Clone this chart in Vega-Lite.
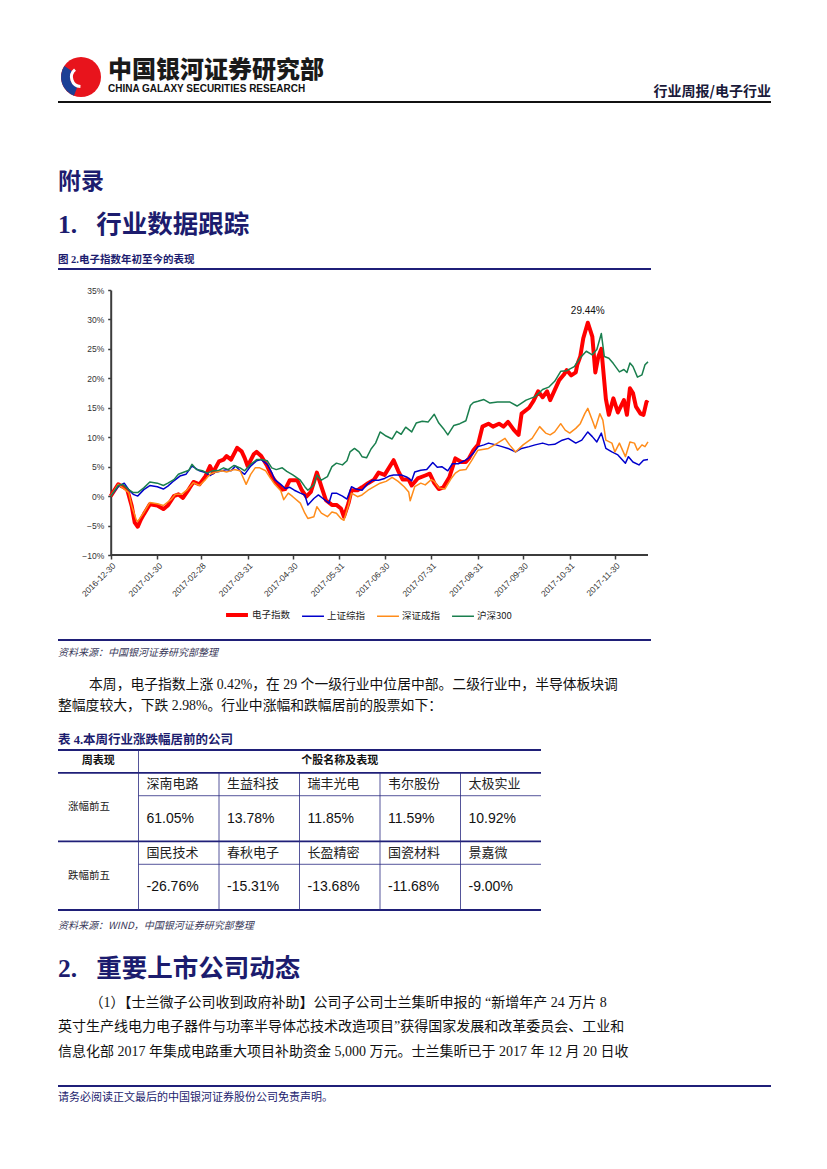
{
 "$schema": "https://vega.github.io/schema/vega-lite/v6.json",
 "background": "#ffffff",
 "padding": {"left": 57, "top": 0, "right": 0, "bottom": 0},
 "config": {"view": {"stroke": null}, "font": "Liberation Sans, Noto Sans CJK SC"},
 "spacing": 0,
 "bounds": "flush",
 "resolve": {"scale": {"color": "independent", "strokeWidth": "independent"}, "legend": {"color": "independent", "strokeWidth": "independent"}},
 "vconcat": [
  {"width": 713, "height": 57, "view": {"fill": "#ffffff", "stroke": null}, "data": {"values": []}, "mark": "point", "encoding": {}},
  {"hconcat": [
    {"width": 3, "height": 40, "data": {"values": []}, "mark": "point", "encoding": {}},
    {"width": 40, "height": 40, "data": {"values": [{}]},
     "layer": [
      {"mark": {"type": "arc", "outerRadius": 20, "theta": 0, "theta2": 6.2832, "color": "#e8141c"}, "encoding": {}},
      {"mark": {"type": "arc", "innerRadius": 11, "outerRadius": 20, "theta": 3.5, "theta2": 5.3, "color": "#1c3f95"}, "encoding": {}},
      {"mark": {"type": "arc", "innerRadius": 8, "outerRadius": 11, "theta": 3.2, "theta2": 5.6, "color": "#ffffff"}, "encoding": {}}
     ]}
   ], "spacing": 0, "bounds": "flush"},
  {"width": 713, "height": 44, "data": {"values": []}, "mark": "point", "encoding": {}},
  {"hconcat": [
    {"width": 356, "height": 2, "view": {"fill": "#111111", "stroke": null}, "data": {"values": []}, "mark": "point", "encoding": {},
     "title": {"text": "中国银河证券研究部", "subtitle": "CHINA GALAXY SECURITIES RESEARCH", "anchor": "start", "frame": "group", "dx": 50, "offset": 7,
       "font": "Noto Sans CJK SC", "fontSize": 24, "fontWeight": 900, "color": "#1a1a1a",
       "subtitleFont": "Liberation Sans", "subtitleFontSize": 10, "subtitleFontWeight": "bold", "subtitleColor": "#111111", "subtitlePadding": 1}},
    {"width": 357, "height": 2, "view": {"fill": "#111111", "stroke": null}, "data": {"values": []}, "mark": "point", "encoding": {},
     "title": {"text": "行业周报/电子行业", "anchor": "end", "frame": "group", "offset": 2, "font": "Noto Sans CJK SC", "fontSize": 14, "fontWeight": "bold", "color": "#1a1a3a"}}
   ], "spacing": 0, "bounds": "flush"},
  {"width": 713, "height": 96, "data": {"values": []}, "mark": "point", "encoding": {}},
  {"width": 713, "height": 71, "data": {"values": []}, "mark": "point", "encoding": {},
   "title": {"text": "附录", "anchor": "start", "frame": "group", "offset": 3, "font": "Liberation Serif, Noto Sans CJK SC", "fontSize": 23, "fontWeight": "bold", "color": "#1c1c6e"}},
  {"width": 593, "height": 2, "view": {"fill": "#1f1f78", "stroke": null}, "data": {"values": []}, "mark": "point", "encoding": {},
   "title": {"text": "1.\u00a0\u00a0\u00a0行业数据跟踪", "subtitle": "图 2.电子指数年初至今的表现", "anchor": "start", "frame": "group", "offset": 3,
     "font": "Liberation Serif, Noto Sans CJK SC", "fontSize": 25.5, "fontWeight": "bold", "color": "#1c1c6e",
     "subtitleFont": "Liberation Serif, Noto Sans CJK SC", "subtitleFontSize": 10.5, "subtitleFontWeight": "bold", "subtitleColor": "#1c1c6e", "subtitlePadding": 16}},
  {"width": 713, "height": 20, "data": {"values": []}, "mark": "point", "encoding": {}},
  {"width": 590, "height": 265,
   "data": {"values": [
{"d":"2016-12-30","s":"电子指数","v":0},{"d":"2017-01-04","s":"电子指数","v":2.0},{"d":"2017-01-07","s":"电子指数","v":1.6},{"d":"2017-01-10","s":"电子指数","v":1.1},{"d":"2017-01-13","s":"电子指数","v":-1.7},{"d":"2017-01-15","s":"电子指数","v":-4.5},{"d":"2017-01-17","s":"电子指数","v":-5.2},{"d":"2017-01-19","s":"电子指数","v":-4.0},{"d":"2017-01-21","s":"电子指数","v":-3.1},{"d":"2017-01-25","s":"电子指数","v":-1.4},{"d":"2017-01-30","s":"电子指数","v":-1.6},{"d":"2017-02-03","s":"电子指数","v":-2.2},{"d":"2017-02-06","s":"电子指数","v":-1.6},{"d":"2017-02-10","s":"电子指数","v":0.0},{"d":"2017-02-13","s":"电子指数","v":0.3},{"d":"2017-02-16","s":"电子指数","v":-0.3},{"d":"2017-02-20","s":"电子指数","v":1.2},{"d":"2017-02-23","s":"电子指数","v":2.4},{"d":"2017-02-27","s":"电子指数","v":2.0},{"d":"2017-03-03","s":"电子指数","v":3.4},{"d":"2017-03-06","s":"电子指数","v":5.1},{"d":"2017-03-08","s":"电子指数","v":4.0},{"d":"2017-03-12","s":"电子指数","v":5.9},{"d":"2017-03-15","s":"电子指数","v":6.2},{"d":"2017-03-17","s":"电子指数","v":6.8},{"d":"2017-03-20","s":"电子指数","v":6.2},{"d":"2017-03-24","s":"电子指数","v":8.2},{"d":"2017-03-27","s":"电子指数","v":7.6},{"d":"2017-03-29","s":"电子指数","v":6.5},{"d":"2017-03-31","s":"电子指数","v":5.1},{"d":"2017-04-04","s":"电子指数","v":7.1},{"d":"2017-04-06","s":"电子指数","v":7.5},{"d":"2017-04-09","s":"电子指数","v":6.8},{"d":"2017-04-13","s":"电子指数","v":5.1},{"d":"2017-04-16","s":"电子指数","v":3.4},{"d":"2017-04-19","s":"电子指数","v":2.3},{"d":"2017-04-23","s":"电子指数","v":1.1},{"d":"2017-04-25","s":"电子指数","v":1.2},{"d":"2017-04-28","s":"电子指数","v":2.7},{"d":"2017-05-03","s":"电子指数","v":2.7},{"d":"2017-05-06","s":"电子指数","v":1.0},{"d":"2017-05-09","s":"电子指数","v":-0.1},{"d":"2017-05-12","s":"电子指数","v":0.7},{"d":"2017-05-16","s":"电子指数","v":4.0},{"d":"2017-05-19","s":"电子指数","v":1.6},{"d":"2017-05-22","s":"电子指数","v":-0.7},{"d":"2017-05-26","s":"电子指数","v":-1.5},{"d":"2017-05-29","s":"电子指数","v":-1.5},{"d":"2017-06-01","s":"电子指数","v":-2.1},{"d":"2017-06-03","s":"电子指数","v":-3.5},{"d":"2017-06-06","s":"电子指数","v":-1.2},{"d":"2017-06-08","s":"电子指数","v":1.0},{"d":"2017-06-12","s":"电子指数","v":1.0},{"d":"2017-06-15","s":"电子指数","v":1.5},{"d":"2017-06-19","s":"电子指数","v":2.2},{"d":"2017-06-23","s":"电子指数","v":2.8},{"d":"2017-06-26","s":"电子指数","v":4.0},{"d":"2017-06-30","s":"电子指数","v":3.6},{"d":"2017-07-06","s":"电子指数","v":6.1},{"d":"2017-07-09","s":"电子指数","v":4.3},{"d":"2017-07-12","s":"电子指数","v":2.8},{"d":"2017-07-16","s":"电子指数","v":2.8},{"d":"2017-07-18","s":"电子指数","v":1.8},{"d":"2017-07-22","s":"电子指数","v":3.0},{"d":"2017-07-27","s":"电子指数","v":3.5},{"d":"2017-07-30","s":"电子指数","v":3.8},{"d":"2017-08-02","s":"电子指数","v":2.2},{"d":"2017-08-05","s":"电子指数","v":1.2},{"d":"2017-08-08","s":"电子指数","v":1.5},{"d":"2017-08-12","s":"电子指数","v":3.2},{"d":"2017-08-16","s":"电子指数","v":6.4},{"d":"2017-08-20","s":"电子指数","v":5.8},{"d":"2017-08-23","s":"电子指数","v":5.8},{"d":"2017-08-25","s":"电子指数","v":6.4},{"d":"2017-08-28","s":"电子指数","v":7.8},{"d":"2017-08-31","s":"电子指数","v":8.7},{"d":"2017-09-03","s":"电子指数","v":11.8},{"d":"2017-09-07","s":"电子指数","v":12.3},{"d":"2017-09-10","s":"电子指数","v":11.8},{"d":"2017-09-14","s":"电子指数","v":12.3},{"d":"2017-09-17","s":"电子指数","v":11.8},{"d":"2017-09-20","s":"电子指数","v":12.6},{"d":"2017-09-24","s":"电子指数","v":11.2},{"d":"2017-09-27","s":"电子指数","v":10.4},{"d":"2017-09-29","s":"电子指数","v":14.0},{"d":"2017-10-04","s":"电子指数","v":15.0},{"d":"2017-10-07","s":"电子指数","v":16.2},{"d":"2017-10-10","s":"电子指数","v":17.8},{"d":"2017-10-13","s":"电子指数","v":16.8},{"d":"2017-10-16","s":"电子指数","v":17.8},{"d":"2017-10-18","s":"电子指数","v":16.3},{"d":"2017-10-21","s":"电子指数","v":18.0},{"d":"2017-10-24","s":"电子指数","v":19.7},{"d":"2017-10-27","s":"电子指数","v":20.6},{"d":"2017-10-29","s":"电子指数","v":21.4},{"d":"2017-11-01","s":"电子指数","v":20.5},{"d":"2017-11-04","s":"电子指数","v":21.0},{"d":"2017-11-05","s":"电子指数","v":22.3},{"d":"2017-11-07","s":"电子指数","v":23.7},{"d":"2017-11-09","s":"电子指数","v":26.8},{"d":"2017-11-12","s":"电子指数","v":29.44,"lbl":"29.44%"},{"d":"2017-11-15","s":"电子指数","v":27.1},{"d":"2017-11-17","s":"电子指数","v":21.0},{"d":"2017-11-19","s":"电子指数","v":23.7},{"d":"2017-11-21","s":"电子指数","v":25.0},{"d":"2017-11-24","s":"电子指数","v":16.5},{"d":"2017-11-26","s":"电子指数","v":13.8},{"d":"2017-11-29","s":"电子指数","v":16.6},{"d":"2017-12-02","s":"电子指数","v":14.2},{"d":"2017-12-06","s":"电子指数","v":16.3},{"d":"2017-12-08","s":"电子指数","v":13.8},{"d":"2017-12-10","s":"电子指数","v":18.3},{"d":"2017-12-12","s":"电子指数","v":17.5},{"d":"2017-12-14","s":"电子指数","v":15.2},{"d":"2017-12-17","s":"电子指数","v":14.0},{"d":"2017-12-19","s":"电子指数","v":13.8},{"d":"2017-12-21","s":"电子指数","v":16.0},{"d":"2017-12-22","s":"电子指数","v":15.8},
{"d":"2016-12-30","s":"上证综指","v":0},{"d":"2017-01-04","s":"上证综指","v":1.6},{"d":"2017-01-08","s":"上证综指","v":2.2},{"d":"2017-01-11","s":"上证综指","v":1.1},{"d":"2017-01-14","s":"上证综指","v":0.3},{"d":"2017-01-17","s":"上证综指","v":0.0},{"d":"2017-01-21","s":"上证综指","v":1.1},{"d":"2017-01-25","s":"上证综指","v":1.8},{"d":"2017-01-30","s":"上证综指","v":1.6},{"d":"2017-02-03","s":"上证综指","v":1.2},{"d":"2017-02-06","s":"上证综指","v":1.7},{"d":"2017-02-10","s":"上证综指","v":2.6},{"d":"2017-02-14","s":"上证综指","v":3.4},{"d":"2017-02-18","s":"上证综指","v":3.7},{"d":"2017-02-22","s":"上证综指","v":5.1},{"d":"2017-02-24","s":"上证综指","v":4.8},{"d":"2017-02-27","s":"上证综指","v":4.3},{"d":"2017-03-03","s":"上证综指","v":4.0},{"d":"2017-03-06","s":"上证综指","v":3.5},{"d":"2017-03-09","s":"上证综指","v":4.0},{"d":"2017-03-14","s":"上证综指","v":4.3},{"d":"2017-03-17","s":"上证综指","v":4.5},{"d":"2017-03-20","s":"上证综指","v":4.3},{"d":"2017-03-23","s":"上证综指","v":5.1},{"d":"2017-03-26","s":"上证综指","v":4.3},{"d":"2017-03-29","s":"上证综指","v":3.7},{"d":"2017-04-02","s":"上证综指","v":5.1},{"d":"2017-04-06","s":"上证综指","v":6.0},{"d":"2017-04-09","s":"上证综指","v":6.2},{"d":"2017-04-13","s":"上证综指","v":5.4},{"d":"2017-04-16","s":"上证综指","v":4.0},{"d":"2017-04-18","s":"上证综指","v":2.8},{"d":"2017-04-22","s":"上证综指","v":2.0},{"d":"2017-04-25","s":"上证综指","v":1.3},{"d":"2017-04-28","s":"上证综指","v":1.5},{"d":"2017-05-01","s":"上证综指","v":1.0},{"d":"2017-05-05","s":"上证综指","v":0.5},{"d":"2017-05-08","s":"上证综指","v":0.2},{"d":"2017-05-10","s":"上证综指","v":-1.5},{"d":"2017-05-14","s":"上证综指","v":-0.4},{"d":"2017-05-17","s":"上证综指","v":0.2},{"d":"2017-05-20","s":"上证综指","v":-0.4},{"d":"2017-05-24","s":"上证综指","v":-1.2},{"d":"2017-05-26","s":"上证综指","v":0.5},{"d":"2017-05-29","s":"上证综指","v":0.5},{"d":"2017-06-02","s":"上证综指","v":0.0},{"d":"2017-06-05","s":"上证综指","v":-0.5},{"d":"2017-06-08","s":"上证综指","v":1.6},{"d":"2017-06-11","s":"上证综指","v":1.2},{"d":"2017-06-15","s":"上证综指","v":1.0},{"d":"2017-06-18","s":"上证综指","v":1.9},{"d":"2017-06-22","s":"上证综指","v":2.7},{"d":"2017-06-26","s":"上证综指","v":2.7},{"d":"2017-06-30","s":"上证综指","v":3.0},{"d":"2017-07-03","s":"上证综指","v":3.4},{"d":"2017-07-06","s":"上证综指","v":3.6},{"d":"2017-07-11","s":"上证综指","v":3.6},{"d":"2017-07-15","s":"上证综指","v":3.2},{"d":"2017-07-18","s":"上证综指","v":2.6},{"d":"2017-07-20","s":"上证综指","v":4.1},{"d":"2017-07-24","s":"上证综指","v":4.4},{"d":"2017-07-28","s":"上证综指","v":4.5},{"d":"2017-08-01","s":"上证综指","v":5.7},{"d":"2017-08-04","s":"上证综指","v":4.9},{"d":"2017-08-07","s":"上证综指","v":5.0},{"d":"2017-08-11","s":"上证综指","v":4.3},{"d":"2017-08-14","s":"上证综指","v":5.5},{"d":"2017-08-18","s":"上证综指","v":5.5},{"d":"2017-08-22","s":"上证综指","v":6.0},{"d":"2017-08-25","s":"上证综指","v":6.5},{"d":"2017-08-28","s":"上证综指","v":7.3},{"d":"2017-08-31","s":"上证综指","v":8.4},{"d":"2017-09-04","s":"上证综指","v":8.7},{"d":"2017-09-07","s":"上证综指","v":9.0},{"d":"2017-09-12","s":"上证综指","v":8.7},{"d":"2017-09-16","s":"上证综指","v":8.4},{"d":"2017-09-20","s":"上证综指","v":8.1},{"d":"2017-09-25","s":"上证综指","v":7.5},{"d":"2017-09-29","s":"上证综指","v":8.1},{"d":"2017-10-04","s":"上证综指","v":8.4},{"d":"2017-10-08","s":"上证综指","v":8.7},{"d":"2017-10-13","s":"上证综指","v":9.0},{"d":"2017-10-17","s":"上证综指","v":8.7},{"d":"2017-10-21","s":"上证综指","v":8.8},{"d":"2017-10-26","s":"上证综指","v":9.5},{"d":"2017-10-30","s":"上证综指","v":9.8},{"d":"2017-11-04","s":"上证综指","v":9.0},{"d":"2017-11-08","s":"上证综指","v":9.5},{"d":"2017-11-12","s":"上证综指","v":10.9},{"d":"2017-11-15","s":"上证综指","v":10.1},{"d":"2017-11-18","s":"上证综指","v":9.2},{"d":"2017-11-21","s":"上证综指","v":10.7},{"d":"2017-11-24","s":"上证综指","v":8.1},{"d":"2017-11-28","s":"上证综指","v":7.5},{"d":"2017-12-02","s":"上证综指","v":7.0},{"d":"2017-12-07","s":"上证综指","v":5.6},{"d":"2017-12-09","s":"上证综指","v":6.7},{"d":"2017-12-12","s":"上证综指","v":5.8},{"d":"2017-12-16","s":"上证综指","v":5.3},{"d":"2017-12-19","s":"上证综指","v":6.1},{"d":"2017-12-22","s":"上证综指","v":6.2},
{"d":"2016-12-30","s":"深证成指","v":0},{"d":"2017-01-04","s":"深证成指","v":2.0},{"d":"2017-01-07","s":"深证成指","v":1.4},{"d":"2017-01-11","s":"深证成指","v":0.6},{"d":"2017-01-13","s":"深证成指","v":-1.7},{"d":"2017-01-16","s":"深证成指","v":-4.0},{"d":"2017-01-17","s":"深证成指","v":-4.3},{"d":"2017-01-21","s":"深证成指","v":-2.8},{"d":"2017-01-25","s":"深证成指","v":-1.1},{"d":"2017-01-30","s":"深证成指","v":-1.3},{"d":"2017-02-03","s":"深证成指","v":-1.6},{"d":"2017-02-08","s":"深证成指","v":-0.6},{"d":"2017-02-11","s":"深证成指","v":0.3},{"d":"2017-02-15","s":"深证成指","v":0.3},{"d":"2017-02-19","s":"深证成指","v":1.1},{"d":"2017-02-23","s":"深证成指","v":2.3},{"d":"2017-02-27","s":"深证成指","v":1.8},{"d":"2017-03-03","s":"深证成指","v":2.8},{"d":"2017-03-06","s":"深证成指","v":3.7},{"d":"2017-03-09","s":"深证成指","v":4.0},{"d":"2017-03-14","s":"深证成指","v":4.3},{"d":"2017-03-17","s":"深证成指","v":4.1},{"d":"2017-03-22","s":"深证成指","v":4.5},{"d":"2017-03-26","s":"深证成指","v":4.3},{"d":"2017-03-30","s":"深证成指","v":2.0},{"d":"2017-04-02","s":"深证成指","v":3.7},{"d":"2017-04-05","s":"深证成指","v":4.8},{"d":"2017-04-08","s":"深证成指","v":4.8},{"d":"2017-04-12","s":"深证成指","v":4.3},{"d":"2017-04-15","s":"深证成指","v":3.1},{"d":"2017-04-18","s":"深证成指","v":2.0},{"d":"2017-04-22","s":"深证成指","v":0.9},{"d":"2017-04-24","s":"深证成指","v":-0.6},{"d":"2017-04-27","s":"深证成指","v":0.5},{"d":"2017-04-30","s":"深证成指","v":-0.1},{"d":"2017-05-05","s":"深证成指","v":-1.2},{"d":"2017-05-08","s":"深证成指","v":-2.9},{"d":"2017-05-10","s":"深证成指","v":-3.8},{"d":"2017-05-14","s":"深证成指","v":-3.5},{"d":"2017-05-16","s":"深证成指","v":-1.8},{"d":"2017-05-19","s":"深证成指","v":-2.9},{"d":"2017-05-23","s":"深证成指","v":-3.5},{"d":"2017-05-26","s":"深证成指","v":-2.7},{"d":"2017-05-29","s":"深证成指","v":-2.9},{"d":"2017-06-01","s":"深证成指","v":-3.8},{"d":"2017-06-03","s":"深证成指","v":-4.1},{"d":"2017-06-06","s":"深证成指","v":-1.5},{"d":"2017-06-08","s":"深证成指","v":0.5},{"d":"2017-06-12","s":"深证成指","v":-0.1},{"d":"2017-06-15","s":"深证成指","v":0.2},{"d":"2017-06-19","s":"深证成指","v":1.0},{"d":"2017-06-23","s":"深证成指","v":1.6},{"d":"2017-06-27","s":"深证成指","v":2.2},{"d":"2017-07-01","s":"深证成指","v":2.5},{"d":"2017-07-05","s":"深证成指","v":3.2},{"d":"2017-07-09","s":"深证成指","v":2.5},{"d":"2017-07-13","s":"深证成指","v":1.6},{"d":"2017-07-16","s":"深证成指","v":0.7},{"d":"2017-07-17","s":"深证成指","v":-0.8},{"d":"2017-07-20","s":"深证成指","v":1.6},{"d":"2017-07-24","s":"深证成指","v":2.2},{"d":"2017-07-27","s":"深证成指","v":1.9},{"d":"2017-07-31","s":"深证成指","v":2.8},{"d":"2017-08-02","s":"深证成指","v":2.5},{"d":"2017-08-05","s":"深证成指","v":1.4},{"d":"2017-08-09","s":"深证成指","v":1.2},{"d":"2017-08-13","s":"深证成指","v":2.9},{"d":"2017-08-16","s":"深证成指","v":3.9},{"d":"2017-08-19","s":"深证成指","v":4.4},{"d":"2017-08-23","s":"深证成指","v":4.5},{"d":"2017-08-27","s":"深证成指","v":6.1},{"d":"2017-08-31","s":"深证成指","v":7.8},{"d":"2017-09-07","s":"深证成指","v":8.1},{"d":"2017-09-13","s":"深证成指","v":9.0},{"d":"2017-09-18","s":"深证成指","v":9.8},{"d":"2017-09-21","s":"深证成指","v":8.7},{"d":"2017-09-25","s":"深证成指","v":7.5},{"d":"2017-09-30","s":"深证成指","v":8.7},{"d":"2017-10-06","s":"深证成指","v":9.8},{"d":"2017-10-11","s":"深证成指","v":11.8},{"d":"2017-10-15","s":"深证成指","v":10.7},{"d":"2017-10-18","s":"深证成指","v":10.4},{"d":"2017-10-21","s":"深证成指","v":10.9},{"d":"2017-10-25","s":"深证成指","v":12.3},{"d":"2017-10-28","s":"深证成指","v":11.2},{"d":"2017-10-31","s":"深证成指","v":10.7},{"d":"2017-11-04","s":"深证成指","v":11.5},{"d":"2017-11-07","s":"深证成指","v":12.3},{"d":"2017-11-10","s":"深证成指","v":14.0},{"d":"2017-11-12","s":"深证成指","v":14.9},{"d":"2017-11-15","s":"深证成指","v":12.9},{"d":"2017-11-17","s":"深证成指","v":11.5},{"d":"2017-11-20","s":"深证成指","v":14.0},{"d":"2017-11-22","s":"深证成指","v":12.9},{"d":"2017-11-24","s":"深证成指","v":9.5},{"d":"2017-11-28","s":"深证成指","v":9.0},{"d":"2017-11-30","s":"深证成指","v":7.5},{"d":"2017-12-03","s":"深证成指","v":9.0},{"d":"2017-12-07","s":"深证成指","v":6.7},{"d":"2017-12-10","s":"深证成指","v":9.2},{"d":"2017-12-13","s":"深证成指","v":9.0},{"d":"2017-12-15","s":"深证成指","v":7.8},{"d":"2017-12-18","s":"深证成指","v":8.7},{"d":"2017-12-20","s":"深证成指","v":8.4},{"d":"2017-12-22","s":"深证成指","v":9.2},
{"d":"2016-12-30","s":"沪深300","v":0},{"d":"2017-01-04","s":"沪深300","v":1.8},{"d":"2017-01-07","s":"沪深300","v":2.0},{"d":"2017-01-11","s":"沪深300","v":1.1},{"d":"2017-01-14","s":"沪深300","v":0.6},{"d":"2017-01-17","s":"沪深300","v":0.6},{"d":"2017-01-21","s":"沪深300","v":1.4},{"d":"2017-01-25","s":"沪深300","v":2.4},{"d":"2017-01-30","s":"沪深300","v":2.2},{"d":"2017-02-03","s":"沪深300","v":1.8},{"d":"2017-02-06","s":"沪深300","v":2.2},{"d":"2017-02-10","s":"沪深300","v":2.8},{"d":"2017-02-13","s":"沪深300","v":3.7},{"d":"2017-02-16","s":"沪深300","v":4.0},{"d":"2017-02-20","s":"沪深300","v":4.4},{"d":"2017-02-22","s":"沪深300","v":5.4},{"d":"2017-02-25","s":"沪深300","v":4.5},{"d":"2017-03-01","s":"沪深300","v":4.3},{"d":"2017-03-04","s":"沪深300","v":3.9},{"d":"2017-03-08","s":"沪深300","v":4.3},{"d":"2017-03-12","s":"沪深300","v":4.4},{"d":"2017-03-15","s":"沪深300","v":4.8},{"d":"2017-03-18","s":"沪深300","v":4.5},{"d":"2017-03-22","s":"沪深300","v":5.2},{"d":"2017-03-26","s":"沪深300","v":4.8},{"d":"2017-03-29","s":"沪深300","v":4.3},{"d":"2017-04-02","s":"沪深300","v":5.4},{"d":"2017-04-06","s":"沪深300","v":6.2},{"d":"2017-04-09","s":"沪深300","v":6.2},{"d":"2017-04-13","s":"沪深300","v":6.0},{"d":"2017-04-16","s":"沪深300","v":4.8},{"d":"2017-04-19","s":"沪深300","v":4.5},{"d":"2017-04-23","s":"沪深300","v":4.8},{"d":"2017-04-26","s":"沪深300","v":4.2},{"d":"2017-04-30","s":"沪深300","v":3.6},{"d":"2017-05-05","s":"沪深300","v":2.7},{"d":"2017-05-08","s":"沪深300","v":1.6},{"d":"2017-05-10","s":"沪深300","v":1.0},{"d":"2017-05-14","s":"沪深300","v":1.9},{"d":"2017-05-16","s":"沪深300","v":3.6},{"d":"2017-05-19","s":"沪深300","v":2.7},{"d":"2017-05-23","s":"沪深300","v":3.3},{"d":"2017-05-26","s":"沪深300","v":5.0},{"d":"2017-05-29","s":"沪深300","v":5.6},{"d":"2017-06-02","s":"沪深300","v":5.3},{"d":"2017-06-05","s":"沪深300","v":6.0},{"d":"2017-06-07","s":"沪深300","v":7.5},{"d":"2017-06-10","s":"沪深300","v":8.1},{"d":"2017-06-13","s":"沪深300","v":7.5},{"d":"2017-06-15","s":"沪深300","v":6.7},{"d":"2017-06-18","s":"沪深300","v":6.5},{"d":"2017-06-21","s":"沪深300","v":8.0},{"d":"2017-06-24","s":"沪深300","v":9.0},{"d":"2017-06-27","s":"沪深300","v":10.9},{"d":"2017-07-01","s":"沪深300","v":10.2},{"d":"2017-07-05","s":"沪深300","v":9.7},{"d":"2017-07-08","s":"沪深300","v":11.0},{"d":"2017-07-11","s":"沪深300","v":10.5},{"d":"2017-07-14","s":"沪深300","v":11.7},{"d":"2017-07-18","s":"沪深300","v":10.9},{"d":"2017-07-21","s":"沪深300","v":12.4},{"d":"2017-07-25","s":"沪深300","v":12.7},{"d":"2017-07-29","s":"沪深300","v":12.6},{"d":"2017-08-02","s":"沪深300","v":13.9},{"d":"2017-08-05","s":"沪深300","v":12.4},{"d":"2017-08-08","s":"沪深300","v":11.5},{"d":"2017-08-11","s":"沪深300","v":10.4},{"d":"2017-08-15","s":"沪深300","v":12.0},{"d":"2017-08-19","s":"沪深300","v":12.3},{"d":"2017-08-23","s":"沪深300","v":12.8},{"d":"2017-08-26","s":"沪深300","v":15.4},{"d":"2017-08-28","s":"沪深300","v":15.9},{"d":"2017-08-31","s":"沪深300","v":16.1},{"d":"2017-09-04","s":"沪深300","v":16.4},{"d":"2017-09-08","s":"沪深300","v":15.8},{"d":"2017-09-13","s":"沪深300","v":16.0},{"d":"2017-09-21","s":"沪深300","v":16.0},{"d":"2017-09-26","s":"沪深300","v":15.3},{"d":"2017-10-02","s":"沪深300","v":16.3},{"d":"2017-10-08","s":"沪深300","v":16.9},{"d":"2017-10-13","s":"沪深300","v":18.1},{"d":"2017-10-17","s":"沪深300","v":18.5},{"d":"2017-10-21","s":"沪深300","v":19.5},{"d":"2017-10-25","s":"沪深300","v":21.2},{"d":"2017-10-29","s":"沪深300","v":21.3},{"d":"2017-11-03","s":"沪深300","v":22.0},{"d":"2017-11-07","s":"沪深300","v":23.5},{"d":"2017-11-11","s":"沪深300","v":24.6},{"d":"2017-11-15","s":"沪深300","v":24.0},{"d":"2017-11-18","s":"沪深300","v":24.9},{"d":"2017-11-21","s":"沪深300","v":27.6},{"d":"2017-11-23","s":"沪深300","v":23.7},{"d":"2017-11-26","s":"沪深300","v":23.4},{"d":"2017-11-29","s":"沪深300","v":22.5},{"d":"2017-12-03","s":"沪深300","v":21.1},{"d":"2017-12-06","s":"沪深300","v":21.5},{"d":"2017-12-08","s":"沪深300","v":21.0},{"d":"2017-12-10","s":"沪深300","v":22.6},{"d":"2017-12-12","s":"沪深300","v":22.0},{"d":"2017-12-15","s":"沪深300","v":20.2},{"d":"2017-12-18","s":"沪深300","v":20.6},{"d":"2017-12-20","s":"沪深300","v":22.3},{"d":"2017-12-22","s":"沪深300","v":22.8}
   ]},
   "layer": [
    {"mark": {"type": "line", "strokeJoin": "round"},
     "encoding": {
      "x": {"field": "d", "type": "temporal",
        "scale": {"type": "utc", "domain": [{"year": 2016, "month": 11, "date": 25, "utc": true}, {"year": 2017, "month": 12, "date": 22, "utc": true}]},
        "axis": {"title": null, "grid": false, "domain": false, "format": "%Y-%m-%d", "labelAngle": -45, "labelFontSize": 8.5, "labelColor": "#333333", "labelOverlap": false,
          "tickColor": "#3c3c3c", "tickWidth": 1.5, "tickSize": 4, "labelPadding": 2,
          "values": [{"year": 2016, "month": 12, "date": 30, "utc": true}, {"year": 2017, "month": 1, "date": 30, "utc": true}, {"year": 2017, "month": 2, "date": 28, "utc": true}, {"year": 2017, "month": 3, "date": 31, "utc": true}, {"year": 2017, "month": 4, "date": 30, "utc": true}, {"year": 2017, "month": 5, "date": 31, "utc": true}, {"year": 2017, "month": 6, "date": 30, "utc": true}, {"year": 2017, "month": 7, "date": 31, "utc": true}, {"year": 2017, "month": 8, "date": 31, "utc": true}, {"year": 2017, "month": 9, "date": 30, "utc": true}, {"year": 2017, "month": 10, "date": 31, "utc": true}, {"year": 2017, "month": 11, "date": 30, "utc": true}]}},
      "y": {"field": "v", "type": "quantitative", "scale": {"domain": [-10, 35], "nice": false, "zero": false},
        "axis": {"title": null, "grid": false, "offset": -52.7, "tickCount": 9, "format": "d", "labelExpr": "datum.label + '%'", "labelFontSize": 8.5, "labelColor": "#333333", "labelOverlap": false, "labelSeparation": 0,
          "domainColor": "#3c3c3c", "domainWidth": 2, "tickColor": "#3c3c3c", "tickWidth": 1.5, "tickSize": 3, "labelPadding": 4}},
      "color": {"field": "s", "type": "nominal", "scale": {"domain": ["电子指数", "上证综指", "深证成指", "沪深300"], "range": ["#ff0000", "#0000cc", "#ff8c1a", "#1a7f4e"]},
        "legend": {"title": null, "orient": "none", "legendX": 166, "legendY": 312, "direction": "horizontal", "symbolType": "stroke", "symbolSize": 480, "labelFontSize": 9.5, "labelColor": "#222222", "labelFont": "Noto Sans CJK SC", "columnPadding": 8, "labelOffset": 2}},
      "strokeWidth": {"field": "s", "type": "nominal", "scale": {"type": "ordinal", "domain": ["电子指数", "上证综指", "深证成指", "沪深300"], "range": [4, 1.5, 1.5, 1.5]},
        "legend": {"title": null, "orient": "none", "legendX": 166, "legendY": 312, "direction": "horizontal", "symbolType": "stroke", "symbolSize": 480, "labelFontSize": 9.5, "labelColor": "#222222", "labelFont": "Noto Sans CJK SC", "columnPadding": 8, "labelOffset": 2}}
     }},
    {"data": {"values": [{}]},
     "mark": {"type": "rule", "color": "#3c3c3c", "strokeWidth": 2},
     "encoding": {
      "y": {"datum": -10, "type": "quantitative"},
      "x": {"datum": {"year": 2016, "month": 12, "date": 30, "utc": true}, "type": "temporal"},
      "x2": {"datum": {"year": 2017, "month": 12, "date": 22, "utc": true}}}},
    {"transform": [{"filter": "isValid(datum.lbl)"}],
     "mark": {"type": "text", "dy": -12, "fontSize": 10, "font": "Liberation Sans", "color": "#111111"},
     "encoding": {
      "x": {"field": "d", "type": "temporal"},
      "y": {"field": "v", "type": "quantitative"},
      "text": {"field": "lbl"}}}
   ]},
  {"width": 713, "height": 84, "data": {"values": []}, "mark": "point", "encoding": {}},
  {"width": 593, "height": 2, "view": {"fill": "#1f1f78", "stroke": null}, "data": {"values": []}, "mark": "point", "encoding": {}},
  {"width": 713, "height": 75, "data": {"values": []}, "mark": "point", "encoding": {}},
  {"width": 713, "height": 34, "data": {"values": []}, "mark": "point", "encoding": {},
   "title": {"text": "资料来源：中国银河证券研究部整理",
     "subtitle": ["\u200b\u00a0\u00a0\u00a0\u00a0\u00a0\u00a0\u00a0\u00a0\u00a0本周，电子指数上涨 0.42%，在 29 个一级行业中位居中部。二级行业中，半导体板块调", "整幅度较大，下跌 2.98%。行业中涨幅和跌幅居前的股票如下："],
     "anchor": "start", "frame": "group", "offset": 3,
     "font": "Noto Sans CJK SC", "fontSize": 10, "fontStyle": "italic", "fontWeight": "normal", "color": "#3a3a5a",
     "subtitleFont": "Liberation Serif, Noto Sans CJK SC", "subtitleFontSize": 13.8, "subtitleColor": "#111111", "subtitleLineHeight": 21, "subtitlePadding": 20}},
  {"width": 483, "height": 160,
   "title": {"text": "表 4.本周行业涨跌幅居前的公司", "anchor": "start", "frame": "group", "offset": 3, "font": "Liberation Serif, Noto Sans CJK SC", "fontSize": 12.5, "fontWeight": "bold", "color": "#1c1c6e"},
   "layer": [
    {"data": {"values": [{"r": "h"}, {"r": "n1"}, {"r": "n2"}]},
     "mark": {"type": "rule", "color": "#1f1f78", "strokeWidth": 1.8},
     "encoding": {"y": {"field": "r", "type": "nominal", "bandPosition": 0, "scale": {"type": "band", "domain": ["h", "n1", "v1", "v1b", "n2", "v2", "v2b"], "paddingInner": 0, "paddingOuter": 0}, "axis": null}}},
    {"data": {"values": [{"r": "v2b"}]},
     "mark": {"type": "rule", "color": "#1f1f78", "strokeWidth": 1.8},
     "encoding": {"y": {"field": "r", "type": "nominal", "bandPosition": 1, "scale": {"type": "band", "domain": ["h", "n1", "v1", "v1b", "n2", "v2", "v2b"], "paddingInner": 0, "paddingOuter": 0}, "axis": null}}},
    {"data": {"values": [{"r": "v1", "a": "c1", "b": "c5"}, {"r": "v2", "a": "c1", "b": "c5"}]},
     "mark": {"type": "rule", "color": "#2a2a80", "strokeWidth": 0.8},
     "encoding": {
      "y": {"field": "r", "type": "nominal", "bandPosition": 0, "scale": {"type": "band", "domain": ["h", "n1", "v1", "v1b", "n2", "v2", "v2b"], "paddingInner": 0, "paddingOuter": 0}, "axis": null},
      "x": {"field": "a", "type": "nominal", "bandPosition": 0, "scale": {"type": "band", "domain": ["c0", "c1", "c2", "c3", "c4", "c5"], "paddingInner": 0, "paddingOuter": 0}, "axis": null},
      "x2": {"field": "b", "bandPosition": 1}}},
    {"data": {"values": [{"c": "c1", "r0": "h", "r1": "v2b"}, {"c": "c2", "r0": "n1", "r1": "v2b"}, {"c": "c3", "r0": "n1", "r1": "v2b"}, {"c": "c4", "r0": "n1", "r1": "v2b"}, {"c": "c5", "r0": "n1", "r1": "v2b"}]},
     "mark": {"type": "rule", "color": "#2a2a80", "strokeWidth": 0.8},
     "encoding": {
      "x": {"field": "c", "type": "nominal", "bandPosition": 0, "scale": {"type": "band", "domain": ["c0", "c1", "c2", "c3", "c4", "c5"], "paddingInner": 0, "paddingOuter": 0}, "axis": null},
      "y": {"field": "r0", "type": "nominal", "bandPosition": 0, "scale": {"type": "band", "domain": ["h", "n1", "v1", "v1b", "n2", "v2", "v2b"], "paddingInner": 0, "paddingOuter": 0}, "axis": null},
      "y2": {"field": "r1", "bandPosition": 1}}},
    {"data": {"values": [{"c": "c0", "r": "h", "t": "周表现"}, {"c": "c3", "r": "h", "t": "个股名称及表现"}]},
     "mark": {"type": "text", "font": "Noto Sans CJK SC", "fontSize": 11, "fontWeight": "bold", "color": "#111111", "align": "center", "baseline": "middle"},
     "encoding": {
      "x": {"field": "c", "type": "nominal", "bandPosition": 0.5, "scale": {"type": "band", "domain": ["c0", "c1", "c2", "c3", "c4", "c5"], "paddingInner": 0, "paddingOuter": 0}, "axis": null},
      "y": {"field": "r", "type": "nominal", "bandPosition": 0.5, "scale": {"type": "band", "domain": ["h", "n1", "v1", "v1b", "n2", "v2", "v2b"], "paddingInner": 0, "paddingOuter": 0}, "axis": null},
      "text": {"field": "t"}}},
    {"data": {"values": [{"c": "c0", "r": "v1", "t": "涨幅前五"}, {"c": "c0", "r": "v2", "t": "跌幅前五"}]},
     "mark": {"type": "text", "font": "Noto Sans CJK SC", "fontSize": 10.5, "color": "#222222", "align": "left", "baseline": "middle", "dx": 10},
     "encoding": {
      "x": {"field": "c", "type": "nominal", "bandPosition": 0, "scale": {"type": "band", "domain": ["c0", "c1", "c2", "c3", "c4", "c5"], "paddingInner": 0, "paddingOuter": 0}, "axis": null},
      "y": {"field": "r", "type": "nominal", "bandPosition": 0.5, "scale": {"type": "band", "domain": ["h", "n1", "v1", "v1b", "n2", "v2", "v2b"], "paddingInner": 0, "paddingOuter": 0}, "axis": null},
      "text": {"field": "t"}}},
    {"data": {"values": [{"c": "c1", "r": "n1", "t": "深南电路"}, {"c": "c2", "r": "n1", "t": "生益科技"}, {"c": "c3", "r": "n1", "t": "瑞丰光电"}, {"c": "c4", "r": "n1", "t": "韦尔股份"}, {"c": "c5", "r": "n1", "t": "太极实业"},
                         {"c": "c1", "r": "n2", "t": "国民技术"}, {"c": "c2", "r": "n2", "t": "春秋电子"}, {"c": "c3", "r": "n2", "t": "长盈精密"}, {"c": "c4", "r": "n2", "t": "国瓷材料"}, {"c": "c5", "r": "n2", "t": "景嘉微"}]},
     "mark": {"type": "text", "font": "Noto Sans CJK SC", "fontSize": 13, "color": "#222222", "align": "left", "baseline": "middle", "dx": 8},
     "encoding": {
      "x": {"field": "c", "type": "nominal", "bandPosition": 0, "scale": {"type": "band", "domain": ["c0", "c1", "c2", "c3", "c4", "c5"], "paddingInner": 0, "paddingOuter": 0}, "axis": null},
      "y": {"field": "r", "type": "nominal", "bandPosition": 0.5, "scale": {"type": "band", "domain": ["h", "n1", "v1", "v1b", "n2", "v2", "v2b"], "paddingInner": 0, "paddingOuter": 0}, "axis": null},
      "text": {"field": "t"}}},
    {"data": {"values": [{"c": "c1", "r": "v1", "t": "61.05%"}, {"c": "c2", "r": "v1", "t": "13.78%"}, {"c": "c3", "r": "v1", "t": "11.85%"}, {"c": "c4", "r": "v1", "t": "11.59%"}, {"c": "c5", "r": "v1", "t": "10.92%"},
                         {"c": "c1", "r": "v2", "t": "-26.76%"}, {"c": "c2", "r": "v2", "t": "-15.31%"}, {"c": "c3", "r": "v2", "t": "-13.68%"}, {"c": "c4", "r": "v2", "t": "-11.68%"}, {"c": "c5", "r": "v2", "t": "-9.00%"}]},
     "mark": {"type": "text", "font": "Liberation Sans", "fontSize": 14, "color": "#111111", "align": "left", "baseline": "middle", "dx": 8},
     "encoding": {
      "x": {"field": "c", "type": "nominal", "bandPosition": 0, "scale": {"type": "band", "domain": ["c0", "c1", "c2", "c3", "c4", "c5"], "paddingInner": 0, "paddingOuter": 0}, "axis": null},
      "y": {"field": "r", "type": "nominal", "bandPosition": 1, "scale": {"type": "band", "domain": ["h", "n1", "v1", "v1b", "n2", "v2", "v2b"], "paddingInner": 0, "paddingOuter": 0}, "axis": null},
      "text": {"field": "t"}}}
   ]},
  {"width": 713, "height": 75, "data": {"values": []}, "mark": "point", "encoding": {}},
  {"width": 713, "height": 100, "data": {"values": []}, "mark": "point", "encoding": {},
   "title": {"text": "资料来源：WIND，中国银河证券研究部整理", "subtitle": "2.\u00a0\u00a0\u00a0重要上市公司动态", "anchor": "start", "frame": "group", "offset": 3,
     "font": "Noto Sans CJK SC", "fontSize": 10, "fontStyle": "italic", "fontWeight": "normal", "color": "#3a3a5a",
     "subtitleFont": "Liberation Serif, Noto Sans CJK SC", "subtitleFontSize": 25.5, "subtitleFontWeight": "bold", "subtitleColor": "#1c1c6e", "subtitlePadding": 26}},
  {"width": 713, "height": 2, "view": {"fill": "#1f1f78", "stroke": null}, "data": {"values": []}, "mark": "point", "encoding": {},
   "title": {"text": ["\u200b\u00a0\u00a0\u00a0\u00a0\u00a0\u00a0\u00a0\u00a0\u00a0（1）【士兰微子公司收到政府补助】公司子公司士兰集昕申报的 “新增年产 24 万片 8", "英寸生产线电力电子器件与功率半导体芯技术改造项目”获得国家发展和改革委员会、工业和", "信息化部 2017 年集成电路重大项目补助资金 5,000 万元。士兰集昕已于 2017 年 12 月 20 日收"],
     "anchor": "start", "frame": "group", "offset": 26.5, "font": "Liberation Serif, Noto Sans CJK SC", "fontSize": 14, "fontWeight": "normal", "color": "#111111", "lineHeight": 24.5}},
  {"width": 713, "height": 17, "data": {"values": []}, "mark": "point", "encoding": {}},
  {"width": 713, "height": 60, "data": {"values": []}, "mark": "point", "encoding": {},
   "title": {"text": "请务必阅读正文最后的中国银河证券股份公司免责声明。", "anchor": "start", "frame": "group", "offset": 1, "font": "Noto Sans CJK SC", "fontSize": 11, "fontWeight": "normal", "color": "#1c1c6e"}}
 ]
}
